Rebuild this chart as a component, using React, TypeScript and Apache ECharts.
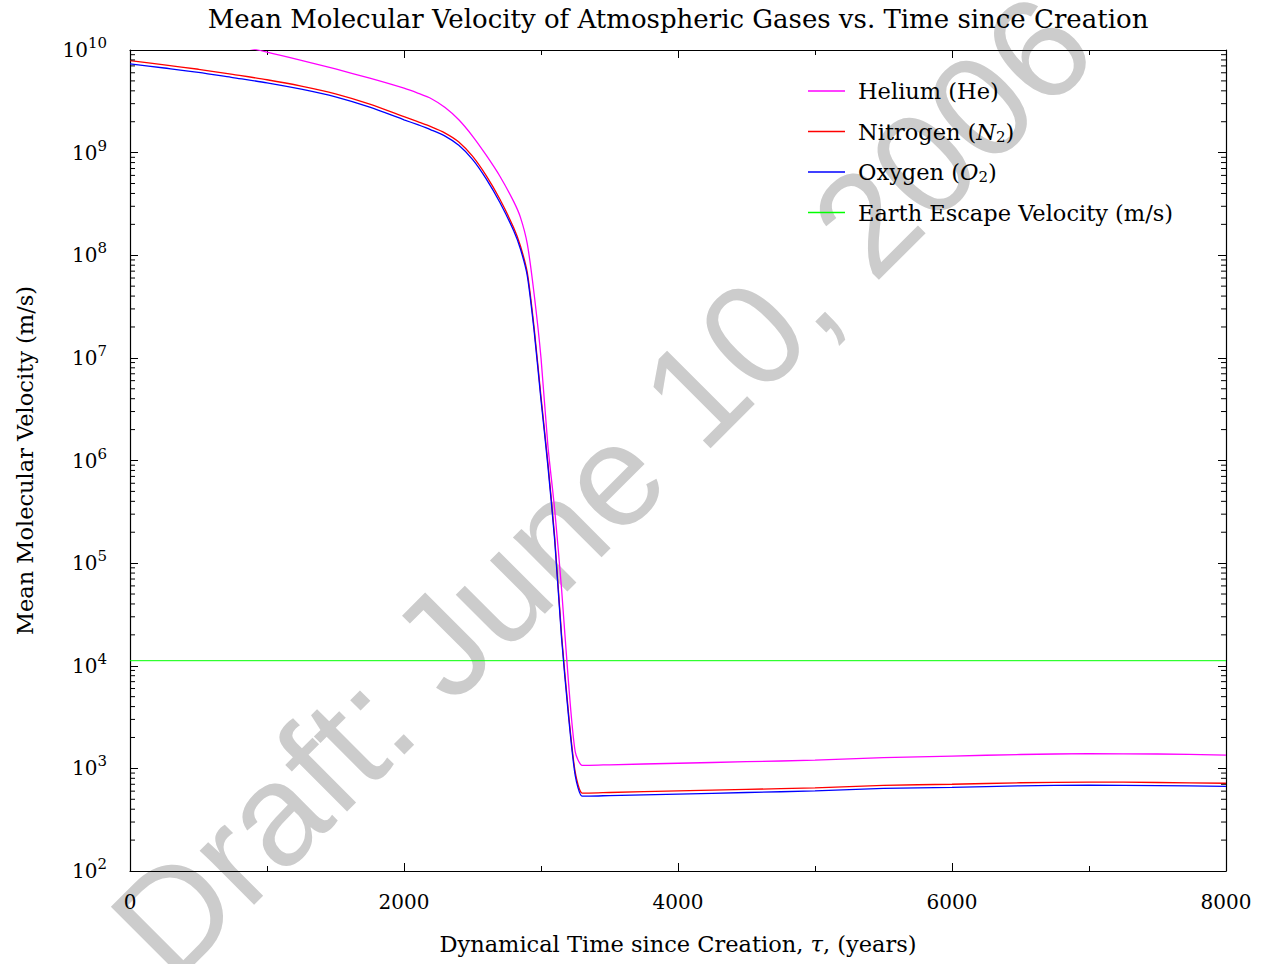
import React, { useEffect, useRef } from 'react';
import * as echarts from 'echarts';

// Dynamical time since creation (years)
const tau = [0, 250, 500, 750, 1000, 1250, 1500, 1750, 2000, 2100, 2200, 2300, 2400, 2500, 2600, 2700, 2800, 2850, 2900, 2950, 3000, 3050, 3100, 3150, 3200, 3250, 3300, 3350, 3500, 4000, 4500, 5000, 5500, 6000, 6500, 7000, 7500, 8000];

// Mean molecular velocity (m/s)
const helium = [1.51e10, 1.38e10, 1.26e10, 1.12e10, 9.55e9, 7.94e9, 6.53e9, 5.31e9, 4.24e9, 3.80e9, 3.35e9, 2.75e9, 2.09e9, 1.45e9, 9.44e8, 5.89e8, 3.35e8, 2.34e8, 1.29e8, 4.17e7, 1.0e7, 1.41e6, 3.31e5, 5.62e4, 7079, 1445, 1072, 1072, 1084, 1122, 1161, 1202, 1274, 1318, 1365, 1390, 1380, 1349];
const nitrogen = [7.87e9, 7.16e9, 6.49e9, 5.78e9, 5.13e9, 4.45e9, 3.74e9, 2.97e9, 2.24e9, 2.0e9, 1.78e9, 1.55e9, 1.27e9, 9.23e8, 5.96e8, 3.51e8, 1.86e8, 1.23e8, 6.76e7, 1.95e7, 4.17e6, 9.55e5, 1.78e5, 2.0e4, 3548, 912, 575, 575, 582, 603, 624, 646, 684, 700, 724, 736, 728, 716];
const oxygen = [7.34e9, 6.68e9, 6.06e9, 5.39e9, 4.79e9, 4.15e9, 3.49e9, 2.77e9, 2.09e9, 1.87e9, 1.66e9, 1.45e9, 1.18e9, 8.61e8, 5.56e8, 3.27e8, 1.74e8, 1.15e8, 6.31e7, 1.82e7, 3.89e6, 8.91e5, 1.66e5, 1.87e4, 3311, 851, 537, 537, 543, 562, 582, 603, 638, 653, 676, 687, 679, 668];
const escapeVelocity = 11200;

const seriesNames = ['Helium (He)', 'Nitrogen (N2)', 'Oxygen (O2)', 'Earth Escape Velocity (m/s)'];
const legendLabels: Record<string, string> = {
  'Helium (He)': 'Helium (He)',
  'Nitrogen (N2)': 'Nitrogen ({i|N}{sub|2})',
  'Oxygen (O2)': 'Oxygen ({i|O}{sub|2})',
  'Earth Escape Velocity (m/s)': 'Earth Escape Velocity (m/s)',
};

const xMin = 0;
const xMax = 8000;
const xInterval = 2000;
const yMin = 1e2;
const yMax = 1e10;

const SERIF = '"DejaVu Serif", serif';

export default function App() {
  const ref = useRef<HTMLDivElement>(null);
  useEffect(() => {
    const chart = echarts.init(ref.current!, null, { renderer: 'svg' });

    const minorVals: number[] = [];
    for (let e = 2; e < 10; e++) {
      for (let m = 2; m <= 9; m++) minorVals.push(m * Math.pow(10, e));
    }

    const lineSeries = (name: string, vals: number[], color: string) => ({
      type: 'line',
      name,
      data: tau.map((t, i) => [t, vals[i]]),
      symbol: 'none',
      showSymbol: false,
      smooth: 0.25,
      lineStyle: { color, width: 1.3 },
      itemStyle: { color },
      clip: true,
      z: 5,
    });

    const axisLine = { show: true, onZero: false, lineStyle: { color: '#000', width: 1.2 } };
    const axisTick = { show: true, inside: true, length: 8, lineStyle: { color: '#000' } };

    const option: any = {
      animation: false,
      backgroundColor: '#ffffff',
      title: {
        text: 'Mean Molecular Velocity of Atmospheric Gases vs. Time since Creation',
        left: 678,
        top: 6,
        textAlign: 'center',
        padding: 0,
        textStyle: { fontFamily: SERIF, fontSize: 26, fontWeight: 'normal', color: '#000' },
      },
      legend: {
        data: seriesNames,
        orient: 'vertical',
        left: 808,
        top: 78,
        padding: 0,
        icon: 'rect',
        itemWidth: 37,
        itemHeight: 1.3,
        itemGap: 14.5,
        formatter: (name: string) => legendLabels[name],
        textStyle: {
          fontFamily: SERIF,
          fontSize: 22.5,
          color: '#000',
          lineHeight: 26,
          padding: [0, 0, 0, 8],
          rich: {
            i: { fontFamily: SERIF, fontSize: 22.5, fontStyle: 'italic', lineHeight: 26, verticalAlign: 'middle' },
            sub: { fontFamily: SERIF, fontSize: 15, lineHeight: 15, padding: [10, 0, 0, 0], verticalAlign: 'middle' },
          },
        },
      },
      grid: { left: 130, right: 39, top: 50, bottom: 93, containLabel: false },
      xAxis: [
        {
          type: 'value',
          position: 'bottom',
          min: xMin,
          max: xMax,
          interval: xInterval,
          name: 'Dynamical Time since Creation, {i|τ}, (years)',
          nameLocation: 'middle',
          nameGap: 61,
          nameTextStyle: {
            fontFamily: SERIF,
            fontSize: 22.5,
            color: '#000',
            rich: { i: { fontFamily: SERIF, fontSize: 22.5, fontStyle: 'italic' } },
          },
          axisLine,
          axisTick,
          minorTick: { show: true, splitNumber: 2, length: 5, lineStyle: { color: '#000' } },
          axisLabel: { fontFamily: SERIF, fontSize: 20, color: '#000', margin: 21, formatter: (v: number) => String(v) },
          splitLine: { show: false },
        },
        {
          type: 'value',
          position: 'top',
          min: xMin,
          max: xMax,
          interval: xInterval,
          axisLine,
          axisTick,
          minorTick: { show: true, splitNumber: 2, length: 5, lineStyle: { color: '#000' } },
          axisLabel: { show: false },
          splitLine: { show: false },
        },
      ],
      yAxis: [
        {
          type: 'log',
          logBase: 10,
          position: 'left',
          min: yMin,
          max: yMax,
          splitNumber: 8,
          name: 'Mean Molecular Velocity (m/s)',
          nameLocation: 'middle',
          nameGap: 94,
          nameTextStyle: { fontFamily: SERIF, fontSize: 22.5, color: '#000' },
          axisLine,
          axisTick,
          axisLabel: {
            margin: 23,
            formatter: (v: number) => `{b|10}{s|${Math.round(Math.log10(v))}}`,
            rich: {
              b: { fontFamily: SERIF, fontSize: 20, lineHeight: 24, color: '#000', verticalAlign: 'middle' },
              s: { fontFamily: SERIF, fontSize: 15, lineHeight: 15, padding: [0, 0, 14, 0], color: '#000', verticalAlign: 'middle' },
            },
          },
          splitLine: { show: false },
        },
        {
          type: 'log',
          logBase: 10,
          position: 'right',
          min: yMin,
          max: yMax,
          splitNumber: 8,
          axisLine,
          axisTick,
          axisLabel: { show: false },
          splitLine: { show: false },
        },
      ],
      graphic: [
        {
          type: 'text',
          x: 602,
          y: 486,
          rotation: Math.PI / 4,
          z: -10,
          silent: true,
          style: {
            text: 'Draft: June 10, 2006',
            fontFamily: '"Liberation Sans", Arial, sans-serif',
            fontSize: 145,
            fill: '#cccccc',
            align: 'center',
            verticalAlign: 'middle',
          },
        },
      ],
      series: [
        lineSeries('Helium (He)', helium, '#ff00ff'),
        lineSeries('Nitrogen (N2)', nitrogen, '#ff0000'),
        lineSeries('Oxygen (O2)', oxygen, '#0000ff'),
        {
          type: 'line',
          name: 'Earth Escape Velocity (m/s)',
          data: [[xMin, escapeVelocity], [xMax, escapeVelocity]],
          symbol: 'none',
          showSymbol: false,
          lineStyle: { color: '#00ff00', width: 1 },
          itemStyle: { color: '#00ff00' },
          z: 4,
        },
        {
          type: 'custom',
          name: 'minorTicks',
          silent: true,
          clip: false,
          xAxisIndex: 0,
          yAxisIndex: 0,
          data: minorVals.map((v) => [xMin, v]),
          renderItem: (params: any, api: any) => {
            const v = api.value(1);
            const pL = api.coord([xMin, v]);
            const pR = api.coord([xMax, v]);
            return {
              type: 'group',
              children: [
                { type: 'line', shape: { x1: pL[0], y1: pL[1], x2: pL[0] + 5, y2: pL[1] }, style: { stroke: '#000', lineWidth: 1 } },
                { type: 'line', shape: { x1: pR[0], y1: pR[1], x2: pR[0] - 5, y2: pR[1] }, style: { stroke: '#000', lineWidth: 1 } },
              ],
            };
          },
          z: 6,
        },
      ],
    };

    chart.setOption(option);
    return () => chart.dispose();
  }, []);

  return (
    <div
      ref={ref}
      style={{ position: 'fixed', left: 0, top: 0, width: 1265, height: 964, background: '#fff' }}
    />
  );
}
